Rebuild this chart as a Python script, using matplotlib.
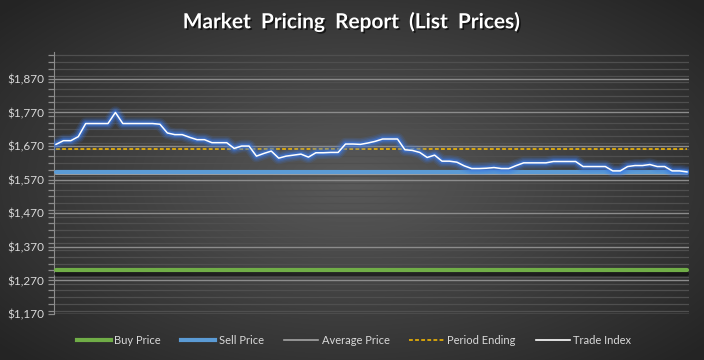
import numpy as np
import matplotlib
matplotlib.use("Agg")
import matplotlib.pyplot as plt
import matplotlib.patheffects as pe
from matplotlib.ticker import MultipleLocator, FuncFormatter
from matplotlib.lines import Line2D

# ---- data ----
trade_index = [1675, 1686, 1686, 1698, 1737, 1737, 1737, 1737, 1770, 1737,
               1737, 1737, 1737, 1737, 1735, 1709, 1704, 1704, 1696, 1689,
               1689, 1680, 1680, 1680, 1663, 1670, 1670, 1640, 1648, 1655,
               1634, 1640, 1643, 1646, 1637, 1650, 1650, 1651, 1651, 1676,
               1676, 1675, 1679, 1684, 1691, 1691, 1691, 1659, 1657, 1651,
               1636, 1643, 1625, 1625, 1622, 1611, 1603, 1603, 1604, 1606,
               1603, 1603, 1612, 1620, 1620, 1620, 1620, 1624, 1624, 1624,
               1624, 1609, 1609, 1609, 1609, 1596, 1596, 1609, 1612, 1612,
               1615, 1609, 1609, 1596, 1596, 1593]
buy_price = 1300
sell_price = 1594
average_price = 1588
period_ending = 1660
y_min, y_max = 1170, 1950
series_names = ["Buy Price", "Sell Price", "Average Price", "Period Ending", "Trade Index"]
title = "Market  Pricing  Report  (List  Prices)"

n = len(trade_index)
x = np.arange(n)

fig = plt.figure(figsize=(7.04, 3.6), dpi=100)

# background radial gradient
bg = fig.add_axes([0, 0, 1, 1], zorder=-10)
gx, gy = np.meshgrid(np.linspace(-1, 1, 704), np.linspace(-1, 1, 360))
r = np.sqrt((gx / 1.0) ** 2 + (gy / 1.05) ** 2)
r = np.clip(r / 1.35, 0, 1)
c_center = np.array([0x5a, 0x5a, 0x5a]) / 255
c_edge = np.array([0x24, 0x24, 0x24]) / 255
img = c_center[None, None, :] * (1 - r[..., None]) + c_edge[None, None, :] * r[..., None]
bg.imshow(img, aspect="auto", extent=[0, 1, 0, 1])
bg.axis("off")

ax = fig.add_axes([54 / 704, 1 - 314 / 360, (689 - 54) / 704, (314 - 52) / 360])
ax.set_facecolor("none")
ax.set_xlim(-0.27, n - 1 + 0.27)
ax.set_ylim(y_min, y_max)

ax.yaxis.set_minor_locator(MultipleLocator(20))
ax.set_yticks(np.arange(y_min, 1871, 100))
ax.yaxis.set_major_formatter(FuncFormatter(lambda v, p: f"${v:,.0f}"))
ax.grid(which="major", axis="y", color="#8c8c8c", linewidth=1.0)
ax.grid(which="minor", axis="y", color="#4f4f4f", linewidth=0.9)
ax.set_axisbelow(True)
ax.set_xticks([])
for s in ["top", "right", "bottom"]:
    ax.spines[s].set_visible(False)
ax.spines["left"].set_color("#8c8c8c")
ax.tick_params(axis="y", which="both", colors="#8c8c8c", labelcolor="#d9d9d9",
               labelsize=8.5, length=4, width=0.9, direction="out", pad=3)
for lab in ax.get_yticklabels():
    lab.set_fontfamily("Lato")

# lines
xs = [x[0], x[-1]]
ax.plot(xs, [buy_price, buy_price], color="#70ad47", linewidth=3.0, solid_capstyle="round",
        zorder=3, path_effects=[pe.SimpleLineShadow(offset=(0, -2.5), shadow_color="black", alpha=0.5),
                                pe.Normal()])
ax.plot(xs, [average_price, average_price], color="#b0b0b0", linewidth=1.2, zorder=3)
ax.plot(xs, [sell_price, sell_price], color="#5b9bd5", linewidth=3.0, solid_capstyle="round", zorder=4)
ax.plot(xs, [period_ending, period_ending], color="#ffc000", linewidth=1.1,
        linestyle=(0, (2.5, 1.5)), zorder=4)

# glow for trade index
for w, a in [(9, 0.14), (7, 0.2), (5, 0.3), (3.2, 0.55)]:
    ax.plot(x, trade_index, color="#3c78e0", linewidth=w, alpha=a,
            solid_joinstyle="round", solid_capstyle="round", zorder=5)
ax.plot(x, trade_index, color="white", linewidth=1.1, solid_joinstyle="round", zorder=6)

# title
fig.text(0.5, 1 - 22 / 360, title, ha="center", va="center", color="white",
         fontsize=15, fontweight="bold", fontfamily="Lato",
         path_effects=[pe.withSimplePatchShadow(offset=(1.2, -1.2), shadow_rgbFace="black", alpha=0.6)])

# legend
handles = [
    Line2D([], [], color="#70ad47", linewidth=3.0),
    Line2D([], [], color="#5b9bd5", linewidth=3.0),
    Line2D([], [], color="#a5a5a5", linewidth=1.2),
    Line2D([], [], color="#ffc000", linewidth=1.1, linestyle=(0, (2.5, 1.5))),
    Line2D([], [], color="white", linewidth=1.2),
]
leg = fig.legend(handles, series_names, loc="center", bbox_to_anchor=(354 / 704, 1 - 340 / 360),
                 ncol=5, frameon=False, handlelength=3.1, handletextpad=0.3, columnspacing=1.8,
                 prop={"family": "Lato", "size": 8})
for t in leg.get_texts():
    t.set_color("#d9d9d9")

fig.savefig("out.png", dpi=100)
